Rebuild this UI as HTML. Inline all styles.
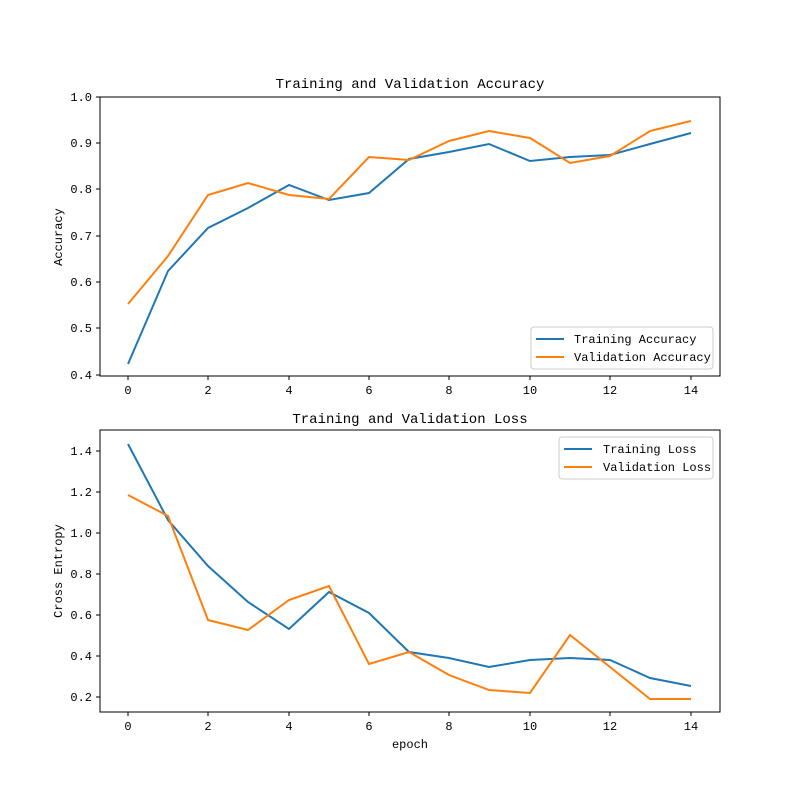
<!DOCTYPE html>
<html><head><meta charset="utf-8"><style>body{margin:0;background:#fff}svg{display:block}text{font-family:"Liberation Mono","DejaVu Sans Mono",monospace;font-size:12px;fill:#000}</style></head>
<body>
<svg width="800" height="800" viewBox="0 0 800 800">
<rect width="800" height="800" fill="#fff"/>
<!-- Top axes -->
<rect x="100" y="97" width="620" height="279" fill="none" stroke="#000" stroke-width="1"/>
<text x="410" y="88" text-anchor="middle" font-size="14" style="font-size:14px">Training and Validation Accuracy</text>
<g stroke="#000">
<line x1="128" y1="376" x2="128" y2="380"/><line x1="208" y1="376" x2="208" y2="380"/><line x1="289" y1="376" x2="289" y2="380"/><line x1="369" y1="376" x2="369" y2="380"/><line x1="449" y1="376" x2="449" y2="380"/><line x1="530" y1="376" x2="530" y2="380"/><line x1="610" y1="376" x2="610" y2="380"/><line x1="691" y1="376" x2="691" y2="380"/>
<line x1="96" y1="97" x2="100" y2="97"/><line x1="96" y1="143" x2="100" y2="143"/><line x1="96" y1="189" x2="100" y2="189"/><line x1="96" y1="236" x2="100" y2="236"/><line x1="96" y1="282" x2="100" y2="282"/><line x1="96" y1="328" x2="100" y2="328"/><line x1="96" y1="375" x2="100" y2="375"/>
</g>
<g text-anchor="middle">
<text x="128" y="394">0</text><text x="208" y="394">2</text><text x="289" y="394">4</text><text x="369" y="394">6</text><text x="449" y="394">8</text><text x="530" y="394">10</text><text x="610" y="394">12</text><text x="691" y="394">14</text>
</g>
<g text-anchor="end">
<text x="92" y="101">1.0</text><text x="92" y="147">0.9</text><text x="92" y="193">0.8</text><text x="92" y="240">0.7</text><text x="92" y="286">0.6</text><text x="92" y="332">0.5</text><text x="92" y="379">0.4</text>
</g>
<text x="62" y="237" text-anchor="middle" transform="rotate(-90 62 237)">Accuracy</text>
<polyline fill="none" stroke="#1f77b4" stroke-width="2" points="128,364 168,271 208,228 248,208 289,185 329,200 369,193 409,159 449,152 489,144 530,161 570,157 610,155 650,144 691,133"/>
<polyline fill="none" stroke="#ff7f0e" stroke-width="2" points="128,304 168,256 208,195 248,183 289,195 329,199 369,157 409,160 449,141 489,131 530,138 570,163 610,156 650,131 691,121"/>
<rect x="531" y="327" width="182" height="42" fill="#fff" stroke="#ccc" rx="3"/>
<line x1="536" y1="339" x2="564" y2="339" stroke="#1f77b4" stroke-width="2"/><text x="574" y="343">Training Accuracy</text>
<line x1="536" y1="357" x2="564" y2="357" stroke="#ff7f0e" stroke-width="2"/><text x="574" y="361">Validation Accuracy</text>
<!-- Bottom axes -->
<rect x="100" y="430" width="620" height="282" fill="none" stroke="#000" stroke-width="1"/>
<text x="410" y="423" text-anchor="middle" style="font-size:14px">Training and Validation Loss</text>
<g stroke="#000">
<line x1="128" y1="712" x2="128" y2="716"/><line x1="208" y1="712" x2="208" y2="716"/><line x1="289" y1="712" x2="289" y2="716"/><line x1="369" y1="712" x2="369" y2="716"/><line x1="449" y1="712" x2="449" y2="716"/><line x1="530" y1="712" x2="530" y2="716"/><line x1="610" y1="712" x2="610" y2="716"/><line x1="691" y1="712" x2="691" y2="716"/>
<line x1="96" y1="451" x2="100" y2="451"/><line x1="96" y1="492" x2="100" y2="492"/><line x1="96" y1="533" x2="100" y2="533"/><line x1="96" y1="574" x2="100" y2="574"/><line x1="96" y1="615" x2="100" y2="615"/><line x1="96" y1="656" x2="100" y2="656"/><line x1="96" y1="697" x2="100" y2="697"/>
</g>
<g text-anchor="middle">
<text x="128" y="730">0</text><text x="208" y="730">2</text><text x="289" y="730">4</text><text x="369" y="730">6</text><text x="449" y="730">8</text><text x="530" y="730">10</text><text x="610" y="730">12</text><text x="691" y="730">14</text>
</g>
<g text-anchor="end">
<text x="92" y="455">1.4</text><text x="92" y="496">1.2</text><text x="92" y="537">1.0</text><text x="92" y="578">0.8</text><text x="92" y="619">0.6</text><text x="92" y="660">0.4</text><text x="92" y="701">0.2</text>
</g>
<text x="410" y="748" text-anchor="middle">epoch</text>
<text x="62" y="571" text-anchor="middle" transform="rotate(-90 62 571)">Cross Entropy</text>
<polyline fill="none" stroke="#1f77b4" stroke-width="2" points="128,444 168,520 208,566 248,602 289,629 329,592 369,613 409,652 449,658 489,667 530,660 570,658 610,660 650,678 691,686"/>
<polyline fill="none" stroke="#ff7f0e" stroke-width="2" points="128,495 168,516 208,620 248,630 289,600 329,586 369,664 409,652 449,675 489,690 530,693 570,635 610,667 650,699 691,699"/>
<rect x="559" y="437" width="154" height="42" fill="#fff" stroke="#ccc" rx="3"/>
<line x1="564" y1="449" x2="592" y2="449" stroke="#1f77b4" stroke-width="2"/><text x="603" y="453">Training Loss</text>
<line x1="564" y1="467" x2="592" y2="467" stroke="#ff7f0e" stroke-width="2"/><text x="603" y="471">Validation Loss</text>
</svg>
</body></html>
